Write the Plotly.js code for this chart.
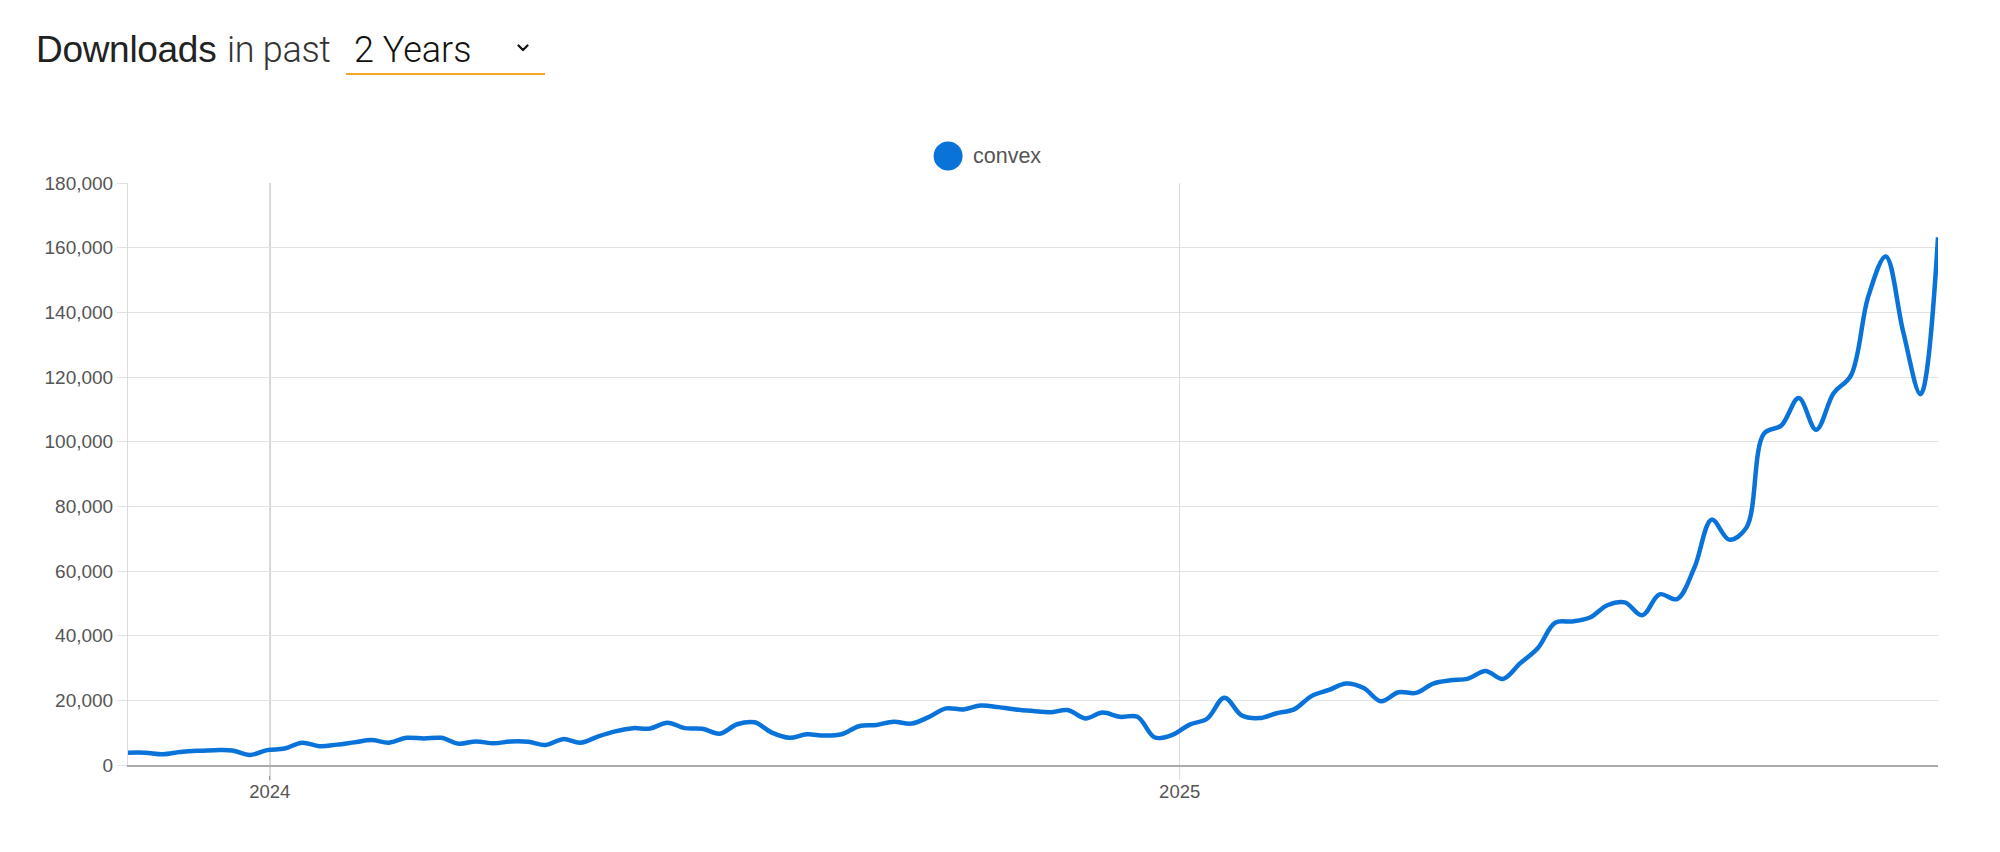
<!DOCTYPE html>
<html>
<head>
<meta charset="utf-8">
<script src="https://cdn.plot.ly/plotly-3.0.1.min.js"></script>
<style>
  html, body { margin: 0; padding: 0; background: #fff; width: 2000px; height: 852px; overflow: hidden; }
  #chart { position: absolute; left: 0; top: 0; width: 2000px; height: 852px; }
  .hdr { position: absolute; top: 28px; font-size: 37px; line-height: 44px; white-space: nowrap; color: #222; }
  #h1 { left: 36px; font-family: "Liberation Sans", Arial, sans-serif; letter-spacing: -0.3px; }
  #h2 { left: 227px; font-family: Roboto, "Liberation Sans", sans-serif; font-weight: 300; color: #333; letter-spacing: -0.3px; font-size: 36px; }
  #h3 { left: 354px; font-family: Roboto, "Liberation Sans", sans-serif; font-weight: 300; color: #111; font-size: 36px; }
  #uline { position: absolute; left: 346px; top: 73px; width: 199px; height: 2px; background: #f5a623; }
  #chev { position: absolute; left: 517px; top: 44px; }
</style>
</head>
<body>
<div id="chart"></div>
<div class="hdr" id="h1">Downloads</div>
<div class="hdr" id="h2">in past</div>
<div class="hdr" id="h3">2 Years</div>
<div id="uline"></div>
<svg id="chev" width="12" height="8" viewBox="0 0 12 8"><polyline points="1.5,1.5 6,6 10.5,1.5" fill="none" stroke="#111" stroke-width="2.2" stroke-linecap="round" stroke-linejoin="round"/></svg>
<script>
// ---- data ----
const seriesName = "convex";
const firstWeek = "2023-11-05";   // first weekly data point
const weeklyDownloads = [
  3800, 3800, 3300, 4000, 4400, 4600, 4500, 3100, 4600, 5100,
  6900, 5800, 6300, 7000, 7700, 6900, 8400, 8200, 8400, 6600,
  7300, 6700, 7300, 7200, 6200, 8000, 6900, 8800, 10400, 11400,
  11300, 13100, 11400, 11200, 9700, 12600, 13200, 10000, 8400, 9500,
  9100, 9500, 12000, 12400, 13400, 12800, 14800, 17500, 17200, 18400,
  17900, 17200, 16700, 16300, 17000, 14400, 16200, 14900, 14900, 8500,
  9300, 12500, 14300, 20800, 15300, 14500, 16000, 17200, 21300, 23200,
  25200, 23800, 19700, 22500, 22300, 25200, 26200, 26700, 29100, 26600,
  31500, 36100, 44000, 44400, 45600, 49400, 50300, 46300, 52800, 51300,
  61000, 75900, 69700, 73500, 102500, 105000, 113500, 103700, 115000, 120500,
  145000, 157300, 134000, 114700, 163200
];
const yearTickVals = ["2024-01-01", "2025-01-01"];
const yearTickText = ["2024", "2025"];
const yTickVals = [0, 20000, 40000, 60000, 80000, 100000, 120000, 140000, 160000, 180000];

// weekly dates
const weeks = [];
{
  const d0 = new Date(firstWeek + "T00:00:00Z");
  for (let i = 0; i < weeklyDownloads.length; i++) {
    const d = new Date(d0.getTime() + i * 7 * 86400000);
    weeks.push(d.toISOString().slice(0, 10));
  }
}

const lineColor = "#0a73d9";

const trace = {
  type: "scatter",
  mode: "lines",
  x: weeks,
  y: weeklyDownloads,
  name: seriesName,
  line: { color: lineColor, width: 4.5, shape: "spline", smoothing: 1 },
  showlegend: false,
  hoverinfo: "x+y"
};

const layout = {
  width: 2000,
  height: 852,
  margin: { l: 128, r: 62, t: 183, b: 87, pad: 0 },
  paper_bgcolor: "#fff",
  plot_bgcolor: "#fff",
  font: { family: "Liberation Sans, Arial, sans-serif", color: "#555", size: 18 },
  xaxis: {
    type: "date",
    range: [weeks[0], weeks[weeks.length - 1]],
    tickvals: yearTickVals,
    ticktext: yearTickText,
    showgrid: true,
    gridcolor: "#dcdcdc",
    gridwidth: 1,
    ticks: "outside",
    ticklen: 9,
    tickcolor: "#dcdcdc",
    tickwidth: 1,
    showline: true,
    linecolor: "#ababab",
    linewidth: 2,
    zeroline: false,
    tickfont: { size: 18.5, color: "#555" },
    fixedrange: true
  },
  yaxis: {
    range: [0, 180000],
    tickvals: yTickVals,
    tickformat: ",d",
    showgrid: true,
    gridcolor: "#e2e2e2",
    gridwidth: 1,
    ticks: "outside",
    ticklen: 10,
    tickcolor: "#e2e2e2",
    showline: true,
    linecolor: "#dcdcdc",
    linewidth: 1,
    zeroline: false,
    tickfont: { size: 19, color: "#555" },
    fixedrange: true
  },
  shapes: [
    { type: "line", xref: "x", yref: "paper", x0: yearTickVals[0], x1: yearTickVals[0], y0: -0.026, y1: 1,
      line: { color: "#8f8f8f", width: 1.3 }, layer: "below" },
    { type: "line", xref: "x", yref: "paper", x0: yearTickVals[1], x1: yearTickVals[1], y0: -0.026, y1: 0,
      line: { color: "#dcdcdc", width: 1 }, layer: "below" },
    { type: "circle", xref: "paper", yref: "paper", xsizemode: "pixel", ysizemode: "pixel",
      xanchor: 0.4531, yanchor: 1.0465, x0: -14.5, x1: 14.5, y0: -14.5, y1: 14.5,
      fillcolor: lineColor, line: { width: 0 } }
  ],
  annotations: [
    { xref: "paper", yref: "paper", x: 0.4657, y: 1.0465, xanchor: "left", yanchor: "middle",
      text: seriesName, showarrow: false, font: { size: 21.5, color: "#555" } }
  ]
};

Plotly.newPlot("chart", [trace], layout, { displayModeBar: false, staticPlot: true });
</script>
</body>
</html>
